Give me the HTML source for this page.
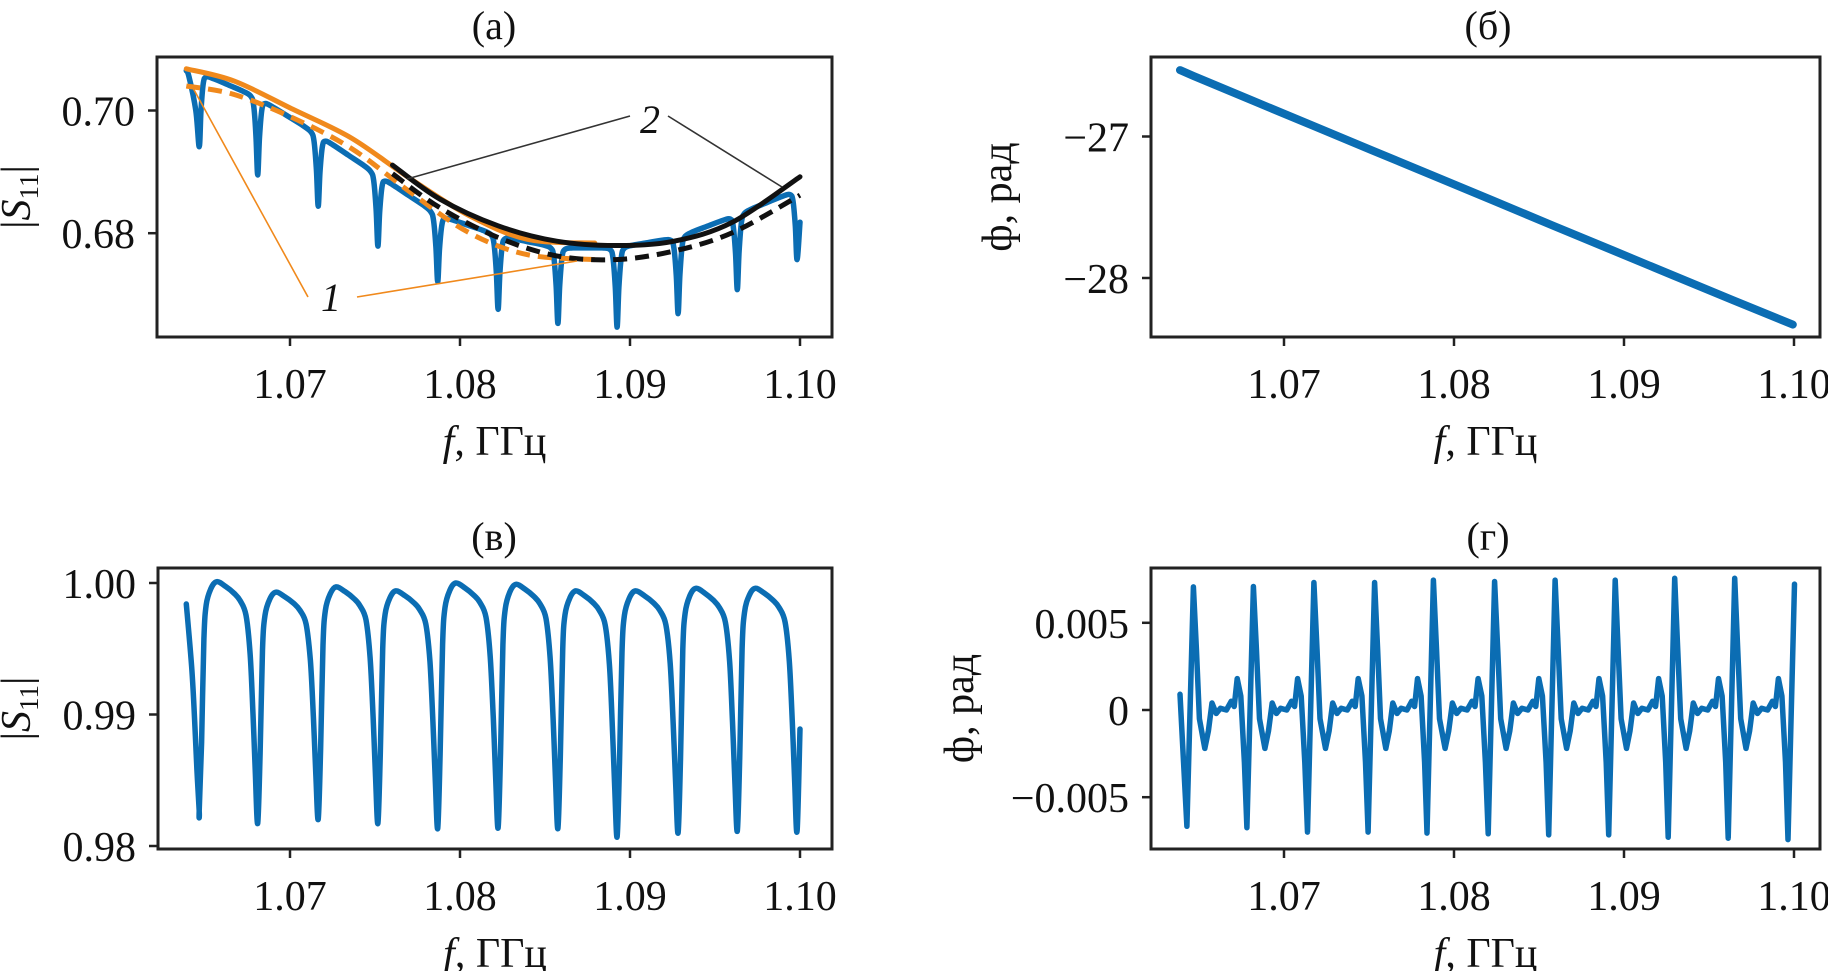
<!DOCTYPE html>
<html><head><meta charset="utf-8"><style>
body{margin:0;background:#fff}
svg{display:block}
text{font-family:"Liberation Serif","DejaVu Serif",serif;fill:#111}
</style></head><body>
<svg id="fig" width="1828" height="971" viewBox="0 0 1828 971" xmlns="http://www.w3.org/2000/svg"></svg>
<script>
// ---------- DATA ----------
const xTicks = [1.07, 1.08, 1.09, 1.10];
const xTickLabels = ["1.07", "1.08", "1.09", "1.10"];
// panel (a)
const aYTicks = [0.70, 0.68];
const aYTickLabels = ["0.70", "0.68"];
const aDips = [1.06466,1.06810,1.07166,1.07517,1.07869,1.08224,1.08576,1.08924,1.09283,1.09631,1.09983];
const aDipVals = [0.6941,0.6895,0.6844,0.6779,0.6721,0.6676,0.6653,0.6647,0.6669,0.6708,0.6757];
const aTops = [0.7062,0.7021,0.6960,0.6895,0.6830,0.6796,0.6776,0.6776,0.6793,0.6830,0.6870];
const aStart = [1.0639, 0.7065];
const aEnd = [1.1000, 0.6818];
const orangeF = [1.0639,1.06672,1.07017,1.07362,1.07707,1.08052,1.08397,1.08793];
const orangeSolid = [0.7068,0.7048,0.7002,0.6955,0.6889,0.6829,0.6790,0.6784];
const orangeDashed = [0.7040,0.7026,0.6988,0.6938,0.6867,0.6801,0.6765,0.6757];
const blackF = [1.07603,1.07879,1.08224,1.08569,1.08914,1.09259,1.09603,1.10000];
const blackSolid = [0.6911,0.6856,0.6812,0.6787,0.6780,0.6787,0.6818,0.6892];
const blackDashed = [0.6897,0.6842,0.6793,0.6763,0.6757,0.6771,0.6801,0.6862];
// panel (б)
const bYTicks = [-27, -28];
const bYTickLabels = ["\u221227", "\u221228"];
const bF = [1.06388,1.06467,1.06815,1.07170,1.07524,1.07874,1.08230,1.08585,1.08936,1.09290,1.09641,1.09993];
const bPhase = [-26.531,-26.572,-26.746,-26.924,-27.101,-27.275,-27.453,-27.631,-27.806,-27.982,-28.157,-28.329];
// panel (в)
const cYTicks = [1.00, 0.99, 0.98];
const cYTickLabels = ["1.00", "0.99", "0.98"];
const cDips = [1.06466,1.06810,1.07166,1.07517,1.07869,1.08224,1.08576,1.08924,1.09283,1.09631,1.09983];
const cDipVals = [0.98267,0.98172,0.98203,0.98172,0.98133,0.98138,0.98133,0.98069,0.98100,0.98113,0.98115];
const cTops = [1.0001,0.9993,0.9997,0.9994,1.0000,0.9999,0.9994,0.9994,0.9996,0.9996];
const cStart = [1.0639, 0.9984];
const cEnd = [1.1000, 0.9889];
// panel (г)
const dYTicks = [0.005, 0, -0.005];
const dYTickLabels = ["0.005", "0", "\u22120.005"];
const dRes = [1.06467,1.06820,1.07176,1.07533,1.07879,1.08239,1.08595,1.08948,1.09298,1.09651,1.10003];
const dMax = [0.00706,0.00708,0.00731,0.00731,0.00745,0.00737,0.00745,0.00745,0.00755,0.00755,0.00722];
const dMin = [-0.00667,-0.00675,-0.0070,-0.0070,-0.00706,-0.0071,-0.00716,-0.00716,-0.0073,-0.00735,-0.00743];
const dStart = [1.06388, 0.0009];
// per-period shape of the phase residual between resonances (radians)
const dShapeT = [0.05,0.10,0.19,0.25,0.31,0.38,0.45,0.55,0.63,0.68,0.73,0.79,0.85];
const dShapeV = [0.0035,-0.0005,-0.0022,-0.0012,0.0004,-0.0002,0.0001,0.0,0.0005,0.0002,0.0018,0.0008,-0.0030];

// ---------- DRAW ----------
const NS = "http://www.w3.org/2000/svg";
const svg = document.getElementById('fig');
function mk(tag, attrs, parent){const e=document.createElementNS(NS,tag);for(const k in attrs)e.setAttribute(k,attrs[k]);(parent||svg).appendChild(e);return e;}
const BLUE="#0b6db3", ORANGE="#f0891c";
const FS=42;

function panel(name, box, fx, vy, yTicks, yLabels, title, titleX, ylabelX, ylabelHtml){
  const g = mk('g',{});
  
  
  const t = mk('text',{x:titleX,y:box.y0-18,'font-size':40,'text-anchor':'middle'},g);
  t.textContent = title;
  
  
  xTicks.forEach((f,i)=>{
    const x=fx(f);
    const tk=mk('line',{x1:x,x2:x,y1:box.y1,y2:box.y1+9,stroke:'#222','stroke-width':2.5},g);
    
    
    const l=mk('text',{x:x,y:box.y1+61,'font-size':FS,'text-anchor':'middle'},g);
    l.textContent=xTickLabels[i];
    
    
  });
  yTicks.forEach((v,i)=>{
    const y=vy(v);
    const tk=mk('line',{x1:box.x0-9,x2:box.x0,y1:y,y2:y,stroke:'#222','stroke-width':2.5},g);
    
    
    const l=mk('text',{x:box.x0-22,y:y+15,'font-size':FS,'text-anchor':'end'},g);
    l.textContent=yLabels[i];
    
    
  });
  const xl=mk('text',{x:(box.x0+box.x1)/2,y:box.y1+118,'font-size':FS,'text-anchor':'middle'},g);
  xl.innerHTML='<tspan font-style="italic">f</tspan>, ГГц';
  
  
  const cy=(box.y0+box.y1)/2;
  const yl=mk('text',{x:0,y:0,'font-size':FS,'text-anchor':'middle',transform:`translate(${ylabelX},${cy}) rotate(-90)`},g);
  yl.innerHTML=ylabelHtml;
  
  
  const plot = mk('g',{},g);
  
  
  const fr=mk('rect',{x:box.x0,y:box.y0,width:box.x1-box.x0,height:box.y1-box.y0,fill:'none',stroke:'#222','stroke-width':3},g);
  
  
  return plot;
}
function poly(parent, pts, fx, vy, attrs, name, smooth){
  const P = pts.map(p=>[fx(p[0]),vy(p[1])]);
  let d = 'M'+P[0][0].toFixed(1)+' '+P[0][1].toFixed(1);
  for(let i=1;i<P.length;i++){
    if(smooth){
      const p0=P[Math.max(0,i-2)],p1=P[i-1],p2=P[i],p3=P[Math.min(P.length-1,i+1)];
      const c1=[p1[0]+(p2[0]-p0[0])/6,p1[1]+(p2[1]-p0[1])/6];
      const c2=[p2[0]-(p3[0]-p1[0])/6,p2[1]-(p3[1]-p1[1])/6];
      d+=` C${c1[0].toFixed(1)} ${c1[1].toFixed(1)} ${c2[0].toFixed(1)} ${c2[1].toFixed(1)} ${p2[0].toFixed(1)} ${p2[1].toFixed(1)}`;
    } else d+=' L'+P[i][0].toFixed(1)+' '+P[i][1].toFixed(1);
  }
  const e = mk('path',Object.assign({d:d,fill:'none','stroke-linejoin':'round','stroke-linecap':'round'},attrs),parent);
  
  
  return e;
}
function dipSeries(dips, dipVals, tops, T, G, start, end){
  const pts=[start];
  const p0 = dips[1]-dips[0];
  for(let j=0;j<T.length;j++){ if(T[j]<0.85) continue;
    const f=dips[0]-(1-T[j])*p0; if(f<=start[0]) continue;
    pts.push([f, dipVals[0]+G[j]*(start[1]-dipVals[0])]); }
  for(let i=0;i<dips.length-1;i++){
    const P=dips[i+1]-dips[i];
    for(let j=0;j<T.length-1;j++){
      const t=T[j], dv=dipVals[i]*(1-t)+dipVals[i+1]*t;
      pts.push([dips[i]+t*P, dv+G[j]*(tops[i]-dv)]);
    }
  }
  pts.push([dips[dips.length-1], dipVals[dipVals.length-1]]);
  pts.push(end);
  return pts;
}
const S11LBL='|<tspan font-style="italic">S</tspan><tspan font-size="27" dy="8">11</tspan><tspan dy="-8">|</tspan>';

// Panel (a)
const aBox={x0:157,x1:832,y0:57,y1:337};
const aFx=f=>290+(f-1.07)*17000, aVy=v=>110.5+(0.70-v)*6135;
const pa=panel('panel-a',aBox,aFx,aVy,aYTicks,aYTickLabels,'(a)',494,30,S11LBL);
const aT=[0,0.03,0.07,0.12,0.25,0.5,0.75,0.88,0.93,0.97,1];
const aG=[0,0.5,0.88,0.98,1,1,1,0.98,0.88,0.5,0];
(function(){
  const pts=[aStart,[aDips[0]-0.0006,0.7055],[aDips[0]-0.0002,0.7000]];
  for(let i=0;i<aDips.length-1;i++){
    const P=aDips[i+1]-aDips[i];
    for(let j=0;j<aT.length-1;j++){
      const t=aT[j], dv=aDipVals[i]*(1-t)+aDipVals[i+1]*t, base=aTops[i]*(1-t)+aTops[i+1]*t;
      pts.push([aDips[i]+t*P, dv+aG[j]*(base-dv)]);
    }
  }
  pts.push([aDips[10],aDipVals[10]]); pts.push(aEnd);
  poly(pa,pts,aFx,aVy,{stroke:BLUE,'stroke-width':5.5},'s11-measured-line',true);
})();
poly(pa,orangeF.map((f,i)=>[f,orangeSolid[i]]),aFx,aVy,{stroke:ORANGE,'stroke-width':5},'orange-solid-fit',true);
poly(pa,orangeF.map((f,i)=>[f,orangeDashed[i]]),aFx,aVy,{stroke:ORANGE,'stroke-width':5,'stroke-dasharray':'14 8','stroke-linecap':'butt'},'orange-dashed-fit',true);
poly(pa,blackF.map((f,i)=>[f,blackSolid[i]]),aFx,aVy,{stroke:'#111','stroke-width':5},'black-solid-fit',true);
poly(pa,blackF.map((f,i)=>[f,blackDashed[i]]),aFx,aVy,{stroke:'#111','stroke-width':5,'stroke-dasharray':'14 8','stroke-linecap':'butt'},'black-dashed-fit',true);
[[630,116,407,179],[668,116,782,187]].forEach(l=>{const e=mk('line',{x1:l[0],y1:l[1],x2:l[2],y2:l[3],stroke:'#333','stroke-width':1.6},pa);});
[[308,297,193,88],[357,297,577,261]].forEach(l=>{const e=mk('line',{x1:l[0],y1:l[1],x2:l[2],y2:l[3],stroke:ORANGE,'stroke-width':1.6},pa);});
(function(){
  const t2=mk('text',{x:650,y:133,'font-size':40,'text-anchor':'middle','font-style':'italic'},pa);t2.textContent='2';
  
  
  const t1=mk('text',{x:331,y:311,'font-size':40,'text-anchor':'middle','font-style':'italic',fill:'#e8302a'},pa);t1.textContent='1';
  
  
})();

// Panel (б)
const bBox={x0:1151,x1:1820,y0:57,y1:337};
const bFx=f=>1284+(f-1.07)*17000, bVy=v=>136.5+(-27-v)*141.5;
const pb=panel('panel-b',bBox,bFx,bVy,bYTicks,bYTickLabels,'(б)',1488,1011,'ф, рад');
poly(pb,bF.map((f,i)=>[f,bPhase[i]]),bFx,bVy,{stroke:BLUE,'stroke-width':8},'phase-line');

// Panel (в)
const cBox={x0:158,x1:832,y0:568,y1:849};
const cFx=aFx, cVy=v=>583+(1.00-v)*13150;
const pc=panel('panel-c',cBox,cFx,cVy,cYTicks,cYTickLabels,'(в)',494,30,S11LBL);
const cT=[0,0.04,0.08,0.12,0.2,0.3,0.45,0.6,0.7,0.8,0.87,0.92,0.96,1];
const cG=[0,0.3,0.75,0.9,0.97,1,0.98,0.95,0.92,0.86,0.7,0.45,0.2,0];
poly(pc,dipSeries(cDips,cDipVals,cTops,cT,cG,cStart,cEnd),cFx,cVy,{stroke:BLUE,'stroke-width':5.5},'s11-normalized-line',true);

// Panel (г)
const dBox={x0:1151,x1:1820,y0:568,y1:849};
const dFx=bFx, dVy=v=>710-v*17440;
const pd=panel('panel-d',dBox,dFx,dVy,dYTicks,dYTickLabels,'(г)',1488,973,'ф, рад');
(function(){
  const pts=[dStart,[dRes[0]-0.00038,dMin[0]],[dRes[0],dMax[0]]];
  for(let i=0;i<dRes.length-1;i++){
    const P=dRes[i+1]-dRes[i];
    dShapeT.forEach((t,j)=>pts.push([dRes[i]+t*P,dShapeV[j]]));
    pts.push([dRes[i+1]-0.00038,dMin[i+1]]);
    pts.push([dRes[i+1],dMax[i+1]]);
  }
  poly(pd,pts,dFx,dVy,{stroke:BLUE,'stroke-width':5.5},'phase-residual-line',false);
})();
</script>
</body></html>
